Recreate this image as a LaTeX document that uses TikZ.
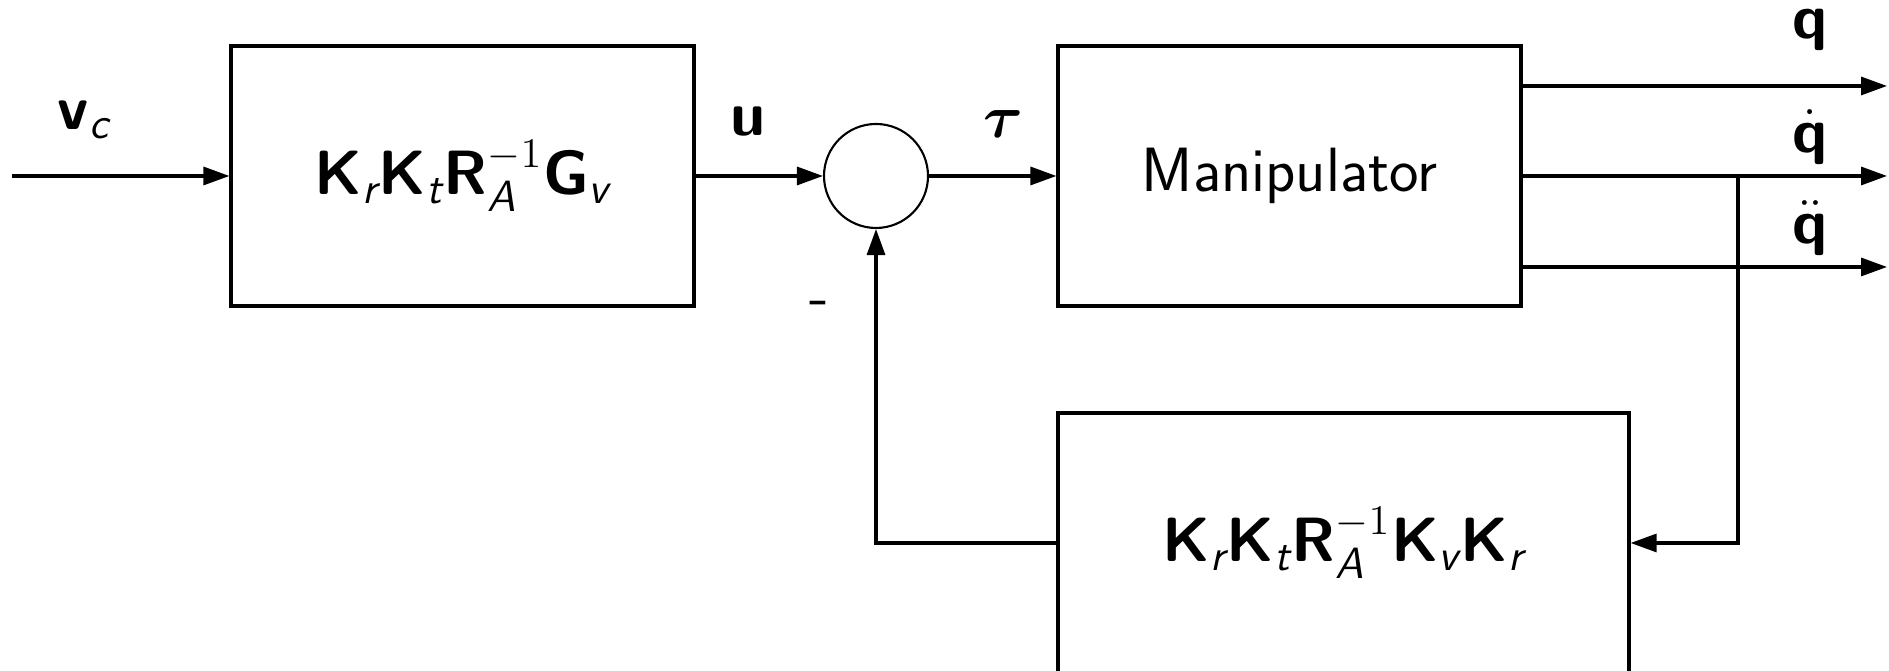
\documentclass[tikz,border=0pt]{standalone}
\usepackage{amsmath}
\usepackage{amssymb}
\usepackage{tikz}
\usetikzlibrary{arrows.meta}

\newcommand{\bsf}[1]{\textsf{\bfseries #1}}
\newcommand{\isf}[1]{\textsf{\itshape #1}}

\begin{document}
\begin{tikzpicture}[>={Triangle[length=2.6mm, width=1.8mm]}, line width=0.9pt,
    every node/.style={font=\fontsize{17.8}{21}\selectfont},
    block/.style={draw, minimum width=4.63cm, minimum height=2.6cm, inner sep=0pt},
    sumnode/.style={draw, circle, minimum size=1.04cm, line width=0.6pt, inner sep=0pt},
    sig/.style={inner sep=0pt, anchor=south}]
    \useasboundingbox (0,0) rectangle (18.89,6.71);

    % Blocks
    \node[block] (gain) at (4.625, 4.95) {$\bsf{K}_{\isf{r}}\bsf{K}_{\isf{t}}\bsf{R}_{\isf{A}}^{-1}\bsf{G}_{\isf{v}}$};
    \node[sumnode] (sum) at (8.76, 4.95) {};
    \node[block] (manip) at (12.895, 4.95) {\textsf{Manipulator}};
    \node[block, minimum width=5.71cm] (fb) at (13.435, 1.28) {$\bsf{K}_{\isf{r}}\bsf{K}_{\isf{t}}\bsf{R}_{\isf{A}}^{-1}\bsf{K}_{\isf{v}}\bsf{K}_{\isf{r}}$};

    % Forward path
    \coordinate (in) at (0.12, 4.95);
    \draw[->] (in) -- (gain);
    \draw[->] (gain) -- (sum);
    \draw[->] (sum) -- (manip);

    % Outputs
    \coordinate (qout) at (18.87, 5.85);
    \coordinate (qdout) at (18.87, 4.95);
    \coordinate (qddout) at (18.87, 4.04);
    \draw[->] (manip.east |- qout) -- (qout);
    \draw[->] (manip.east) -- (qdout);
    \draw[->] (manip.east |- qddout) -- (qddout);

    % Feedback
    \coordinate (br) at (17.38, 4.95);
    \draw[->] (br) |- (fb.east);
    \draw[->] (fb.west) -| (sum.south);

    % Labels
    \node[sig] (vc) at (0.84, 5.30) {$\bsf{v}_{\isf{c}}$};
    \node[sig] (ulab) at (7.48, 5.33) {$\bsf{u}$};
    \node[sig] (taulab) at (10.03, 5.32) {$\boldsymbol{\tau}$};
    \node[sig] (qlab) at (18.1, 6.19) {$\bsf{q}$};
    \node[sig] (qdlab) at (18.1, 5.05) {$\dot{\bsf{q}}$};
    \node[sig] (qddlab) at (18.1, 4.14) {$\ddot{\bsf{q}}$};
    \node (minus) at (8.19, 3.62) {\textsf{-}};
\end{tikzpicture}
\end{document}
